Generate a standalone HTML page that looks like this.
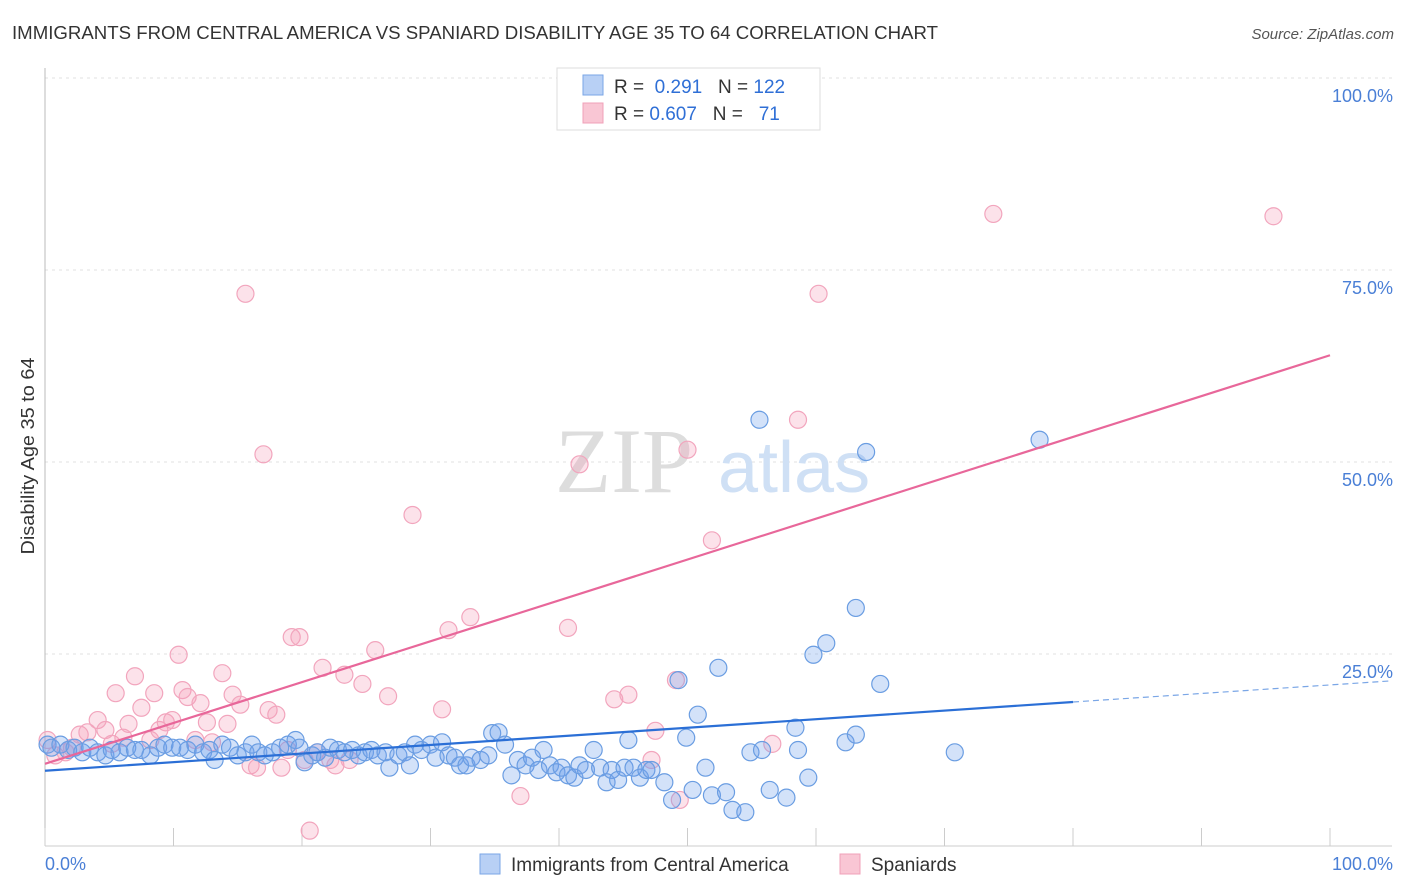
<!DOCTYPE html>
<html><head><meta charset="utf-8">
<style>
body{margin:0;background:#fff;font-family:"Liberation Sans",sans-serif;}
svg{display:block}
</style></head>
<body>
<svg id="chart" width="1406" height="892">
<text x="12" y="39" font-size="18" fill="#333" textLength="926" lengthAdjust="spacingAndGlyphs">IMMIGRANTS FROM CENTRAL AMERICA VS SPANIARD DISABILITY AGE 35 TO 64 CORRELATION CHART</text>
<text x="1394" y="39" font-size="15" fill="#555" text-anchor="end" font-style="italic">Source: ZipAtlas.com</text>
<text x="34" y="456" font-size="18" fill="#333" text-anchor="middle" textLength="197" lengthAdjust="spacingAndGlyphs" transform="rotate(-90 34 456)">Disability Age 35 to 64</text>
<g id="grid"></g>
<g id="watermark"><text x="555" y="492" font-size="92" fill="#ddd" font-family="Liberation Serif,serif">ZIP</text><text x="718" y="492" font-size="72" fill="#cfe0f5">atlas</text></g>
<g id="marks"></g>
<g>
<rect x="557" y="68" width="263" height="62" fill="#fff" stroke="#ddd"/>
<rect x="583" y="75" width="20" height="20" fill="#b8d0f5" stroke="#7aa6e6"/>
<rect x="583" y="103" width="20" height="20" fill="#f9c6d4" stroke="#f0a0b8"/>
<text x="614" y="93" font-size="19" fill="#333">R = <tspan fill="#2f6fd6">&#160;0.291</tspan>&#160;&#160;&#160;N = <tspan fill="#2f6fd6">122</tspan></text>
<text x="614" y="120" font-size="19" fill="#333">R = <tspan fill="#2f6fd6">0.607</tspan>&#160;&#160;&#160;N = <tspan fill="#2f6fd6">&#160;&#160;71</tspan></text>
</g>
<g>
<rect x="480" y="854" width="20" height="20" fill="#b8d0f5" stroke="#7aa6e6"/>
<text x="511" y="871" font-size="19" fill="#333">Immigrants from Central America</text>
<rect x="840" y="854" width="20" height="20" fill="#f9c6d4" stroke="#f0a0b8"/>
<text x="871" y="871" font-size="19" fill="#333">Spaniards</text>
</g>
</svg>
<script>
const yTicks=[25,50,75,100];
const yTickLabels=["25.0%","50.0%","75.0%","100.0%"];
const xTicks=[0,10,20,30,40,50,60,70,80,90,100];
const blueX=[0.2,0.5,1.2,1.8,2.3,2.9,3.5,4.1,4.7,5.2,5.8,6.4,7.0,7.5,8.2,8.8,9.3,9.9,10.5,11.1,11.7,12.3,12.8,13.2,13.8,14.4,15.0,15.6,16.1,16.6,17.1,17.7,18.3,18.9,19.5,19.8,20.2,20.8,21.2,21.8,22.2,22.8,23.3,23.9,24.4,24.9,25.4,25.9,26.5,26.8,27.5,28.0,28.4,28.8,29.3,30.0,30.4,30.9,31.4,31.9,32.3,32.8,33.2,33.9,34.5,34.8,35.3,35.8,36.3,36.8,37.4,37.9,38.4,38.8,39.3,39.8,40.2,40.7,41.2,41.6,42.1,42.7,43.2,43.7,44.1,44.6,45.1,45.4,45.8,46.3,46.8,47.2,48.2,48.8,49.3,49.9,50.4,50.8,51.4,51.9,52.4,53.0,53.5,54.5,54.9,55.6,55.8,56.4,57.7,58.4,58.6,59.4,59.8,60.8,62.3,63.1,63.1,63.9,65.0,70.8,77.4];
const blueY=[13.2,12.8,13.2,12.5,12.8,12.2,12.8,12.2,11.8,12.5,12.2,12.8,12.5,12.5,11.8,12.8,13.2,12.8,12.8,12.5,13.2,12.2,12.5,11.2,13.2,12.8,11.8,12.2,13.2,12.2,11.8,12.2,12.8,13.2,13.8,12.8,10.9,11.8,12.2,11.5,12.8,12.5,12.2,12.5,11.8,12.2,12.5,11.8,12.2,10.2,11.8,12.2,10.5,13.2,12.5,13.2,11.5,13.5,11.8,11.5,10.5,10.5,11.5,11.2,11.8,14.7,14.8,13.2,9.2,11.2,10.5,11.5,9.9,12.5,10.5,9.6,10.2,9.2,8.9,10.5,9.9,12.5,10.2,8.3,9.9,8.6,10.2,13.8,10.2,8.9,9.9,9.9,8.3,6.0,21.6,14.1,7.3,17.1,10.2,6.6,23.2,7.0,4.7,4.4,12.2,55.5,12.5,7.3,6.3,15.4,12.5,8.9,24.9,26.4,13.5,31.0,14.5,51.3,21.1,12.2,52.9];
const pinkX=[0.2,0.8,1.6,2.1,2.7,3.3,4.1,4.7,5.2,5.5,6.1,6.5,7.0,7.5,8.2,8.5,8.9,9.4,9.9,10.4,10.7,11.1,11.7,12.1,12.6,13.0,13.8,14.2,14.6,15.2,15.6,16.0,16.5,17.0,17.4,18.0,18.4,18.9,19.2,19.8,20.2,20.6,21.2,21.6,22.2,22.6,23.3,23.7,24.7,25.7,26.7,28.6,30.9,31.4,33.1,37.0,40.7,41.6,44.3,45.4,47.2,47.5,49.1,49.4,50.0,51.9,56.6,58.6,60.2,73.8,95.6];
const pinkY=[13.8,11.8,12.2,12.8,14.5,14.8,16.4,15.1,13.3,19.9,14.1,15.9,22.1,18.0,13.8,19.9,15.1,16.1,16.4,24.9,20.3,19.4,13.8,18.6,16.1,13.5,22.5,15.9,19.7,18.4,71.9,10.5,10.2,51.0,17.7,17.1,10.2,12.5,27.2,27.2,11.2,2.0,12.2,23.2,11.2,10.5,22.3,11.2,21.1,25.5,19.5,43.1,17.8,28.1,29.8,6.5,28.4,49.7,19.1,19.7,11.2,15.0,21.6,6.0,51.6,39.8,13.3,55.5,71.9,82.3,82.0];
const blueLine=[[0,9.8],[80,18.75]];
const blueDash=[[80,18.75],[100,21.1]];
const pinkLine=[[0,10.7],[100,63.9]];
const NS="http://www.w3.org/2000/svg";
const X=v=>45+v*12.85, Y=v=>846-v*7.68;
const grid=document.getElementById('grid'), marks=document.getElementById('marks');
function mk(tag,attrs,parent){const e=document.createElementNS(NS,tag);for(const k in attrs)e.setAttribute(k,attrs[k]);parent.appendChild(e);return e;}
yTicks.forEach((t,i)=>{
 const l=mk('line',{x1:45,x2:1392,y1:Y(t),y2:Y(t),stroke:'#e0e0e0','stroke-dasharray':'3,4'},grid);
 
 
 const tx=mk('text',{x:1393,y:Y(t)+24,'font-size':18,fill:'#4a7fd6','text-anchor':'end'},grid);
 tx.textContent=yTickLabels[i];
 
 
});
const ax=mk('line',{x1:45,x2:45,y1:68,y2:846,stroke:'#bbb'},grid);


const bx=mk('line',{x1:45,x2:1392,y1:846,y2:846,stroke:'#ccc'},grid);


xTicks.forEach(t=>{const l=mk('line',{x1:X(t),x2:X(t),y1:828,y2:846,stroke:'#ccc'},grid);
 
 });
[['0.0%',45,'start'],['100.0%',1393,'end']].forEach(a=>{const t=mk('text',{x:a[1],y:870,'font-size':18,fill:'#4a7fd6','text-anchor':a[2]},grid);t.textContent=a[0];
 
 });
pinkX.forEach((v,i)=>{const c=mk('circle',{cx:X(v),cy:Y(pinkY[i]),r:8.5,fill:'rgba(246,160,186,0.3)',stroke:'#f2a5bd','stroke-width':1.2},marks);
 
 });
blueX.forEach((v,i)=>{const c=mk('circle',{cx:X(v),cy:Y(blueY[i]),r:8.5,fill:'rgba(110,160,235,0.3)',stroke:'#6a9de2','stroke-width':1.2},marks);
 
 });
const pl=mk('line',{x1:X(pinkLine[0][0]),y1:Y(pinkLine[0][1]),x2:X(pinkLine[1][0]),y2:Y(pinkLine[1][1]),stroke:'#e8679a','stroke-width':2.2},marks);


const bl=mk('line',{x1:X(blueLine[0][0]),y1:Y(blueLine[0][1]),x2:X(blueLine[1][0]),y2:Y(blueLine[1][1]),stroke:'#2b6fd6','stroke-width':2.2},marks);


const bd=mk('line',{x1:X(blueDash[0][0]),y1:Y(blueDash[0][1]),x2:X(blueDash[1][0])+60,y2:Y(blueDash[1][1])-3,stroke:'#7aa6e6','stroke-width':1.2,'stroke-dasharray':'6,4'},marks);


</script>
</body></html>
